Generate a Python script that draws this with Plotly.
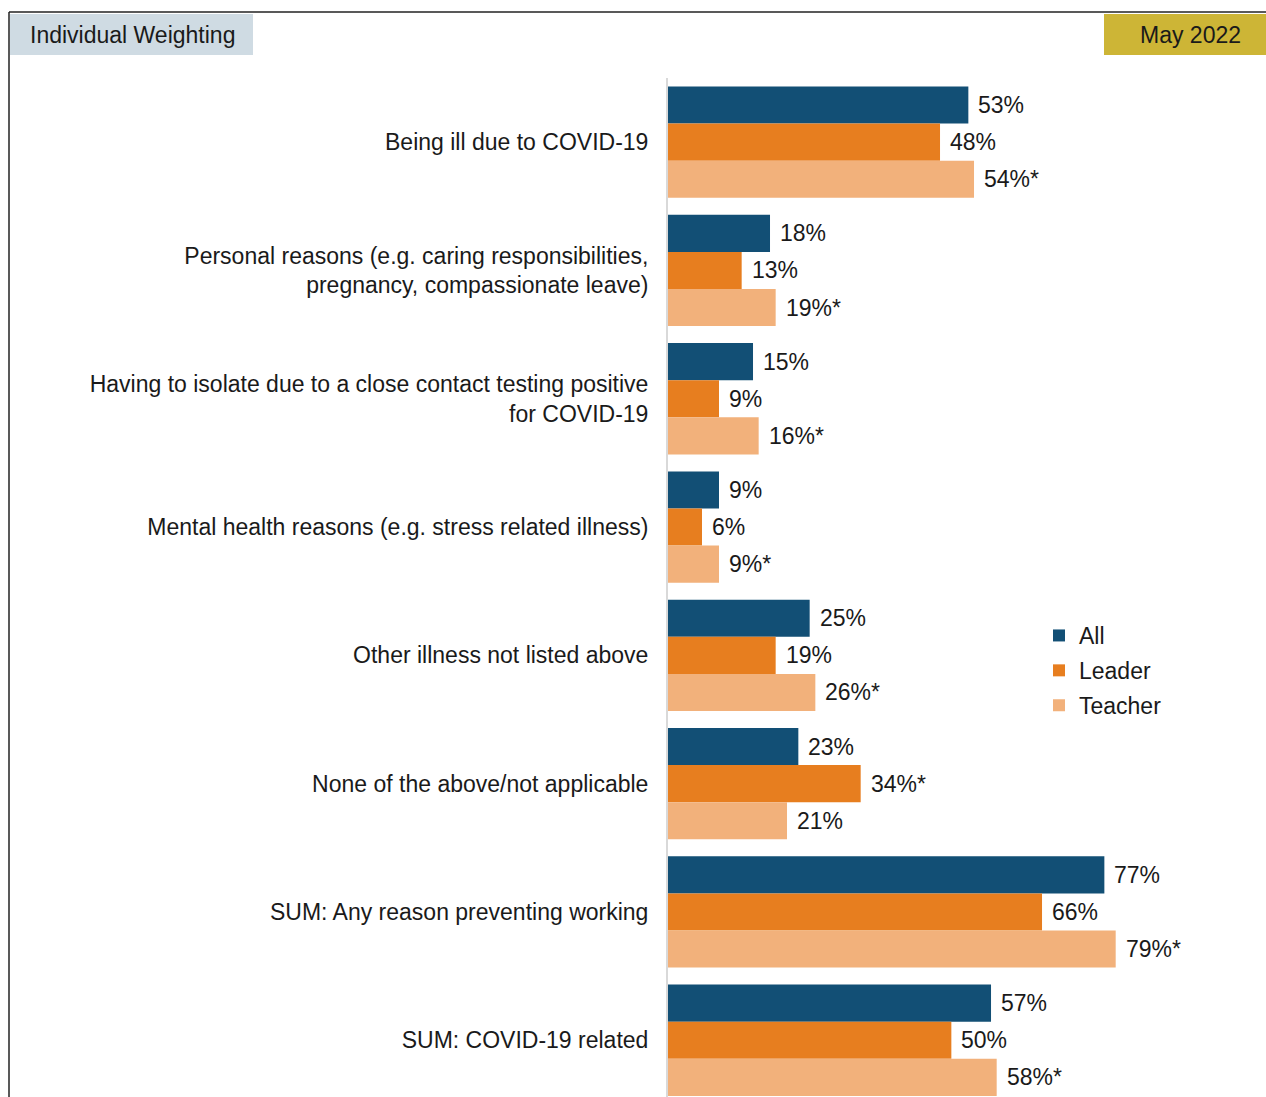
import plotly.graph_objects as go

# Survey results: reasons for absence, share of respondents (%)
categories = [
    "Being ill due to COVID-19",
    "Personal reasons (e.g. caring responsibilities,<br>pregnancy, compassionate leave)",
    "Having to isolate due to a close contact testing positive<br>for COVID-19",
    "Mental health reasons (e.g. stress related illness)",
    "Other illness not listed above",
    "None of the above/not applicable",
    "SUM: Any reason preventing working",
    "SUM: COVID-19 related",
]
all_vals = [53, 18, 15, 9, 25, 23, 77, 57]
leader_vals = [48, 13, 9, 6, 19, 34, 66, 50]
teacher_vals = [54, 19, 16, 9, 26, 21, 79, 58]

# significance markers appended to the value labels
all_marks = ["", "", "", "", "", "", "", ""]
leader_marks = ["", "", "", "", "", "*", "", ""]
teacher_marks = ["*", "*", "*", "*", "*", "", "*", "*"]

series = [
    ("All", all_vals, all_marks, "#124f75"),
    ("Leader", leader_vals, leader_marks, "#e77e1f"),
    ("Teacher", teacher_vals, teacher_marks, "#f2b17b"),
]

W, H = 1266, 1097
ML, MR, MT, MB = 668, 0, 78, 0
FONT = "Liberation Sans, Arial, sans-serif"
FS = 23
TXT = "#1a1a1a"

idx = list(range(len(categories)))

fig = go.Figure()
for name, vals, marks, color in series:
    fig.add_trace(go.Bar(
        name=name, y=idx, x=vals, orientation="h",
        marker=dict(color=color, line=dict(width=0)),
        legendgroup=name,
        hoverinfo="skip",
    ))

# value labels placed just past the end of each bar
n = len(series)
BARGAP = 0.1325
bar_w = (1 - BARGAP) / n
for k, (name, vals, marks, color) in enumerate(series):
    offset = -0.5 + BARGAP / 2 + bar_w * (k + 0.5)
    for i, (v, m) in enumerate(zip(vals, marks)):
        fig.add_annotation(
            x=v, y=i + offset, xref="x", yref="y",
            text=f"{v}%{m}", showarrow=False,
            xanchor="left", yanchor="middle", xshift=8,
            font=dict(family=FONT, size=FS, color=TXT),
        )

pw = W - ML - MR
ph = H - MT - MB


def px(x):
    return (x - ML) / pw


def py(y):
    return (H - MB - y) / ph


# frame lines (top and left)
fig.add_shape(type="line", xref="paper", yref="paper",
              x0=px(9), x1=px(1266), y0=py(12), y1=py(12),
              line=dict(color="#222222", width=1.5))
fig.add_shape(type="line", xref="paper", yref="paper",
              x0=px(9), x1=px(9), y0=py(12), y1=py(1097),
              line=dict(color="#222222", width=1.5))

# header tags
fig.add_shape(type="rect", xref="paper", yref="paper",
              x0=px(10), x1=px(253), y0=py(14), y1=py(55),
              fillcolor="#cfdbe3", line=dict(width=0))
fig.add_shape(type="rect", xref="paper", yref="paper",
              x0=px(1104), x1=px(1266), y0=py(14), y1=py(55),
              fillcolor="#cdb536", line=dict(width=0))
fig.add_annotation(xref="paper", yref="paper", x=px(28), y=py(35),
                   text="Individual Weighting", showarrow=False,
                   xanchor="left", yanchor="middle",
                   font=dict(family=FONT, size=FS, color=TXT))
fig.add_annotation(xref="paper", yref="paper", x=px(1190), y=py(35),
                   text="May 2022", showarrow=False,
                   xanchor="center", yanchor="middle",
                   font=dict(family=FONT, size=FS, color=TXT))

slot = 128.3
y_bottom = -0.5 + (H - MB - MT) / slot

fig.update_layout(
    width=W, height=H,
    margin=dict(l=ML, r=MR, t=MT, b=MB, pad=0),
    paper_bgcolor="white", plot_bgcolor="white",
    barmode="group", bargap=BARGAP, bargroupgap=0,
    font=dict(family=FONT, size=FS, color=TXT),
    showlegend=True,
    legend=dict(
        x=px(1039), y=py(614), xanchor="left", yanchor="top",
        font=dict(family=FONT, size=FS, color=TXT),
        bgcolor="rgba(0,0,0,0)", borderwidth=0,
        tracegroupgap=2, itemwidth=30,
    ),
    xaxis=dict(range=[0, pw / 5.667], showgrid=False, zeroline=False,
               showticklabels=False, showline=False, fixedrange=True),
    yaxis=dict(
        tickmode="array", tickvals=idx, ticktext=categories,
        range=[y_bottom, -0.5], showgrid=False, zeroline=False,
        showline=True, linecolor="#d9d9d9", linewidth=2,
        ticks="outside", ticklen=13, tickcolor="rgba(0,0,0,0)",
        tickfont=dict(family=FONT, size=FS, color=TXT),
    ),
)

fig.write_html("out.html")
